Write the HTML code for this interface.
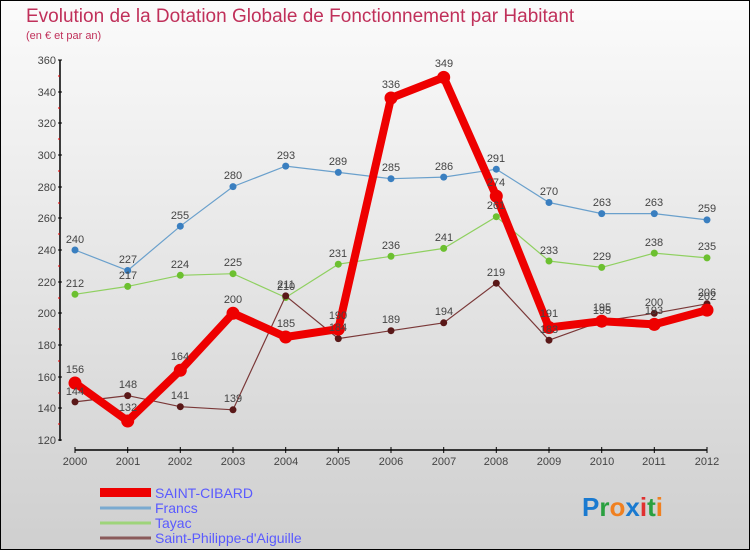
<!DOCTYPE html><html><head><meta charset="utf-8"><style>
body{margin:0}
#c{width:748px;height:548px;border:1px solid #000;background:linear-gradient(#fbfbfb,#cfcfcf);position:relative;overflow:hidden;font-family:"Liberation Sans",sans-serif}
svg text{font-family:"Liberation Sans",sans-serif}
</style></head><body><div id="c">
<svg width="748" height="548" viewBox="1 1 748 548" xmlns="http://www.w3.org/2000/svg">
<text x="26" y="22" font-size="19" fill="#c0305a">Evolution de la Dotation Globale de Fonctionnement par Habitant</text>
<text x="26" y="39" font-size="11" fill="#c0305a">(en € et par an)</text>
<g stroke="#000" stroke-width="1.5"><line x1="60" y1="60" x2="60" y2="441"/><line x1="75" y1="450" x2="707" y2="450"/></g>
<g font-size="11" fill="#444" text-anchor="end">
<text x="56" y="64">360</text><text x="56" y="96">340</text><text x="56" y="127">320</text><text x="56" y="159">300</text><text x="56" y="191">280</text><text x="56" y="222">260</text><text x="56" y="254">240</text><text x="56" y="286">220</text><text x="56" y="317">200</text><text x="56" y="349">180</text><text x="56" y="381">160</text><text x="56" y="412">140</text><text x="56" y="444">120</text></g>
<g stroke="#000"><line x1="58" y1="60" x2="62" y2="60"/><line x1="58" y1="92" x2="62" y2="92"/><line x1="58" y1="123" x2="62" y2="123"/><line x1="58" y1="155" x2="62" y2="155"/><line x1="58" y1="187" x2="62" y2="187"/><line x1="58" y1="218" x2="62" y2="218"/><line x1="58" y1="250" x2="62" y2="250"/><line x1="58" y1="282" x2="62" y2="282"/><line x1="58" y1="313" x2="62" y2="313"/><line x1="58" y1="345" x2="62" y2="345"/><line x1="58" y1="377" x2="62" y2="377"/><line x1="58" y1="408" x2="62" y2="408"/><line x1="58" y1="440" x2="62" y2="440"/></g>
<g stroke="#e00"><line x1="58" y1="76" x2="60" y2="76"/><line x1="58" y1="108" x2="60" y2="108"/><line x1="58" y1="139" x2="60" y2="139"/><line x1="58" y1="171" x2="60" y2="171"/><line x1="58" y1="203" x2="60" y2="203"/><line x1="58" y1="234" x2="60" y2="234"/><line x1="58" y1="266" x2="60" y2="266"/><line x1="58" y1="298" x2="60" y2="298"/><line x1="58" y1="329" x2="60" y2="329"/><line x1="58" y1="361" x2="60" y2="361"/><line x1="58" y1="393" x2="60" y2="393"/><line x1="58" y1="424" x2="60" y2="424"/></g>
<g stroke="#000"><line x1="75" y1="447" x2="75" y2="453"/><line x1="127.7" y1="447" x2="127.7" y2="453"/><line x1="180.3" y1="447" x2="180.3" y2="453"/><line x1="233" y1="447" x2="233" y2="453"/><line x1="285.7" y1="447" x2="285.7" y2="453"/><line x1="338.3" y1="447" x2="338.3" y2="453"/><line x1="391" y1="447" x2="391" y2="453"/><line x1="443.7" y1="447" x2="443.7" y2="453"/><line x1="496.3" y1="447" x2="496.3" y2="453"/><line x1="549" y1="447" x2="549" y2="453"/><line x1="601.7" y1="447" x2="601.7" y2="453"/><line x1="654.3" y1="447" x2="654.3" y2="453"/><line x1="707" y1="447" x2="707" y2="453"/></g>
<g font-size="11" fill="#444" text-anchor="middle">
<text x="75" y="465">2000</text><text x="128" y="465">2001</text><text x="180" y="465">2002</text><text x="233" y="465">2003</text><text x="286" y="465">2004</text><text x="338" y="465">2005</text><text x="391" y="465">2006</text><text x="444" y="465">2007</text><text x="496" y="465">2008</text><text x="549" y="465">2009</text><text x="602" y="465">2010</text><text x="654" y="465">2011</text><text x="707" y="465">2012</text></g>
<polyline fill="none" stroke="#6aa0cc" stroke-width="1.2" points="75,250 127.7,270.5 180.3,226.2 233,186.6 285.7,166.1 338.3,172.4 391,178.7 443.7,177.1 496.3,169.2 549,202.5 601.7,213.6 654.3,213.6 707,219.9"/>
<g fill="#3a7fc0"><circle cx="75" cy="250" r="3.5"/><circle cx="127.7" cy="270.5" r="3.5"/><circle cx="180.3" cy="226.2" r="3.5"/><circle cx="233" cy="186.6" r="3.5"/><circle cx="285.7" cy="166.1" r="3.5"/><circle cx="338.3" cy="172.4" r="3.5"/><circle cx="391" cy="178.7" r="3.5"/><circle cx="443.7" cy="177.1" r="3.5"/><circle cx="496.3" cy="169.2" r="3.5"/><circle cx="549" cy="202.5" r="3.5"/><circle cx="601.7" cy="213.6" r="3.5"/><circle cx="654.3" cy="213.6" r="3.5"/><circle cx="707" cy="219.9" r="3.5"/></g>
<polyline fill="none" stroke="#8fd060" stroke-width="1.2" points="75,294.3 127.7,286.4 180.3,275.3 233,273.7 285.7,297.5 338.3,264.2 391,256.3 443.7,248.4 496.3,216.7 549,261 601.7,267.4 654.3,253.1 707,257.9"/>
<g fill="#6cc030"><circle cx="75" cy="294.3" r="3.5"/><circle cx="127.7" cy="286.4" r="3.5"/><circle cx="180.3" cy="275.3" r="3.5"/><circle cx="233" cy="273.7" r="3.5"/><circle cx="285.7" cy="297.5" r="3.5"/><circle cx="338.3" cy="264.2" r="3.5"/><circle cx="391" cy="256.3" r="3.5"/><circle cx="443.7" cy="248.4" r="3.5"/><circle cx="496.3" cy="216.7" r="3.5"/><circle cx="549" cy="261" r="3.5"/><circle cx="601.7" cy="267.4" r="3.5"/><circle cx="654.3" cy="253.1" r="3.5"/><circle cx="707" cy="257.9" r="3.5"/></g>
<polyline fill="none" stroke="#7a3838" stroke-width="1.2" points="75,401.9 127.7,395.6 180.3,406.7 233,409.8 285.7,295.9 338.3,338.6 391,330.7 443.7,322.8 496.3,283.2 549,340.2 601.7,321.2 654.3,313.3 707,303.8"/>
<g fill="#5a1818"><circle cx="75" cy="401.9" r="3.5"/><circle cx="127.7" cy="395.6" r="3.5"/><circle cx="180.3" cy="406.7" r="3.5"/><circle cx="233" cy="409.8" r="3.5"/><circle cx="285.7" cy="295.9" r="3.5"/><circle cx="338.3" cy="338.6" r="3.5"/><circle cx="391" cy="330.7" r="3.5"/><circle cx="443.7" cy="322.8" r="3.5"/><circle cx="496.3" cy="283.2" r="3.5"/><circle cx="549" cy="340.2" r="3.5"/><circle cx="601.7" cy="321.2" r="3.5"/><circle cx="654.3" cy="313.3" r="3.5"/><circle cx="707" cy="303.8" r="3.5"/></g>
<polyline fill="none" stroke="#ee0000" stroke-width="8" stroke-linejoin="round" points="75,383 127.7,421 180.3,370.3 233,313.3 285.7,337 338.3,329.1 391,98 443.7,77.4 496.3,196.1 549,327.5 601.7,321.2 654.3,324.4 707,310.1"/>
<g fill="#ee0000"><circle cx="75" cy="383" r="6.5"/><circle cx="127.7" cy="421" r="6.5"/><circle cx="180.3" cy="370.3" r="6.5"/><circle cx="233" cy="313.3" r="6.5"/><circle cx="285.7" cy="337" r="6.5"/><circle cx="338.3" cy="329.1" r="6.5"/><circle cx="391" cy="98" r="6.5"/><circle cx="443.7" cy="77.4" r="6.5"/><circle cx="496.3" cy="196.1" r="6.5"/><circle cx="549" cy="327.5" r="6.5"/><circle cx="601.7" cy="321.2" r="6.5"/><circle cx="654.3" cy="324.4" r="6.5"/><circle cx="707" cy="310.1" r="6.5"/></g>
<g font-size="11" fill="#444" text-anchor="middle">
<text x="75" y="243">240</text><text x="128" y="263">227</text><text x="180" y="219">255</text><text x="233" y="179">280</text><text x="286" y="159">293</text><text x="338" y="165">289</text><text x="391" y="171">285</text><text x="444" y="170">286</text><text x="496" y="162">291</text><text x="549" y="195">270</text><text x="602" y="206">263</text><text x="654" y="206">263</text><text x="707" y="212">259</text>
<text x="75" y="287">212</text><text x="128" y="279">217</text><text x="180" y="268">224</text><text x="233" y="266">225</text><text x="286" y="290">210</text><text x="338" y="257">231</text><text x="391" y="249">236</text><text x="444" y="241">241</text><text x="496" y="209">261</text><text x="549" y="254">233</text><text x="602" y="260">229</text><text x="654" y="246">238</text><text x="707" y="250">235</text>
<text x="75" y="395">144</text><text x="128" y="388">148</text><text x="180" y="399">141</text><text x="233" y="402">139</text><text x="286" y="288">211</text><text x="338" y="331">184</text><text x="391" y="323">189</text><text x="444" y="315">194</text><text x="496" y="276">219</text><text x="549" y="333">183</text><text x="602" y="314">195</text><text x="654" y="306">200</text><text x="707" y="296">206</text>
<text x="75" y="373">156</text><text x="128" y="411">132</text><text x="180" y="360">164</text><text x="233" y="303">200</text><text x="286" y="327">185</text><text x="338" y="319">190</text><text x="391" y="88">336</text><text x="444" y="67">349</text><text x="496" y="186">274</text><text x="549" y="317">191</text><text x="602" y="311">195</text><text x="654" y="314">193</text><text x="707" y="300">202</text></g>
<rect x="100" y="488" width="51" height="9" fill="#ee0000"/>
<line x1="100" y1="508" x2="151" y2="508" stroke="#7aaad0" stroke-width="3"/>
<line x1="100" y1="523" x2="151" y2="523" stroke="#9ed47a" stroke-width="3"/>
<line x1="100" y1="538" x2="151" y2="538" stroke="#8a5a5a" stroke-width="3"/>
<g font-size="14" fill="#5a5aff"><text x="155" y="498">SAINT-CIBARD</text><text x="155" y="513">Francs</text><text x="155" y="528">Tayac</text><text x="155" y="543">Saint-Philippe-d'Aiguille</text></g>
<text x="582" y="516" font-size="26" font-weight="bold"><tspan fill="#1a7ad0">P</tspan><tspan fill="#2aa040">r</tspan><tspan fill="#f08020">o</tspan><tspan fill="#1a7ad0">x</tspan><tspan fill="#e03030">i</tspan><tspan fill="#2aa040">t</tspan><tspan fill="#f08020">i</tspan></text>
</svg></div></body></html>
